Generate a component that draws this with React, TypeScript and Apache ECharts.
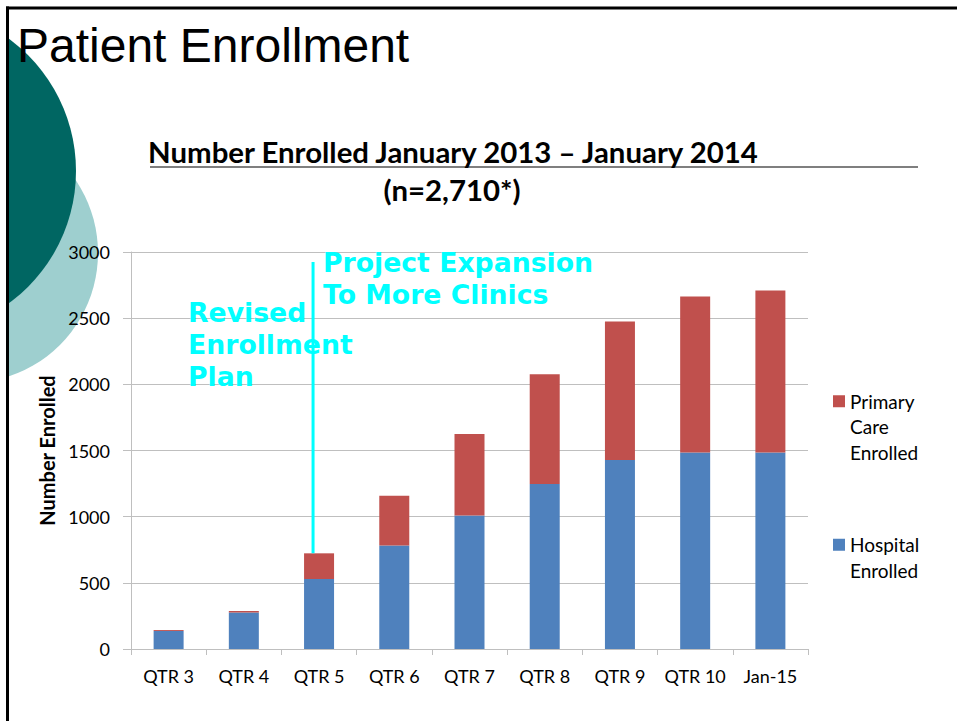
import React, { useEffect, useRef } from "react";
import * as echarts from "echarts";

const categories = ["QTR 3", "QTR 4", "QTR 5", "QTR 6", "QTR 7", "QTR 8", "QTR 9", "QTR 10", "Jan-15"];
const hospitalEnrolled = [136, 275, 529, 783, 1008, 1247, 1429, 1484, 1484];
const primaryCareEnrolled = [7, 12, 194, 376, 617, 829, 1045, 1179, 1226];
const yTicks = { min: 0, max: 3000, interval: 500 };
const seriesNames = ["Primary Care Enrolled", "Hospital Enrolled"];
const expansionCategory = "QTR 5";
const expansionLineTopValue = 2925;

const BLUE = "#4F81BD";
const RED = "#C0504D";
const CYAN = "#00FFFF";
const GRID = "#BFBFBF";
const FONT = "Lato";

// put blank lines before so that the first line is centred on the legend icon
const legendLabel = (n: string) => {
  const words = n.split(" ");
  return "\n".repeat(words.length - 1) + words.join("\n");
};

export default function App() {
  const ref = useRef<HTMLDivElement>(null);
  useEffect(() => {
    document.body.style.margin = "0";
    if (!ref.current) return;
    const chart = echarts.init(ref.current, null, { renderer: "svg" });
    const legendText = {
      fontFamily: FONT,
      fontSize: 19,
      color: "#000",
      lineHeight: 25.5,
    };
    const legendCommon = {
      orient: "vertical",
      left: 833,
      padding: 0,
      itemWidth: 12,
      itemHeight: 12,
      icon: "rect",
      selectedMode: false,
      formatter: legendLabel,
      textStyle: legendText,
    };
    chart.setOption({
      animation: false,
      backgroundColor: "#fff",
      grid: { left: 131, right: 149, top: 252, bottom: 72, containLabel: false },
      xAxis: {
        type: "category",
        data: categories,
        axisLine: { lineStyle: { color: GRID, width: 1 } },
        axisTick: { show: true, length: 6, lineStyle: { color: GRID } },
        axisLabel: { fontFamily: FONT, fontSize: 18, color: "#000", margin: 18, interval: 0 },
      },
      yAxis: {
        type: "value",
        min: yTicks.min,
        max: yTicks.max,
        interval: yTicks.interval,
        name: "Number Enrolled",
        nameLocation: "middle",
        nameGap: 59,
        nameTextStyle: { fontFamily: FONT, fontSize: 20, fontWeight: "bold", color: "#000" },
        axisLine: { show: true, lineStyle: { color: GRID, width: 1 } },
        axisTick: { show: true, length: 8, lineStyle: { color: GRID } },
        splitLine: { lineStyle: { color: GRID, width: 1 } },
        axisLabel: { fontFamily: FONT, fontSize: 18, color: "#000", margin: 21, formatter: (v: number) => String(v) },
      },
      legend: [
        { ...legendCommon, top: 337.5, data: [seriesNames[0]] },
        { ...legendCommon, top: 506.5, data: [seriesNames[1]] },
      ],
      series: [
        {
          name: seriesNames[1],
          type: "bar",
          stack: "total",
          barWidth: 30,
          data: hospitalEnrolled,
          itemStyle: { color: BLUE },
        },
        {
          name: seriesNames[0],
          type: "bar",
          stack: "total",
          barWidth: 30,
          data: primaryCareEnrolled,
          itemStyle: { color: RED },
        },
      ],
      graphic: {
        elements: [
          { id: "c2", type: "circle", z: -10, shape: { cx: -32, cy: 253, r: 130 }, style: { fill: "#9ECFCF" } },
          { id: "c1", type: "circle", z: -9, shape: { cx: -88, cy: 171, r: 164 }, style: { fill: "#006662" } },
          { id: "wl", type: "rect", z: -8, shape: { x: 0, y: 0, width: 6, height: 721 }, style: { fill: "#fff" } },
          { id: "ft", type: "line", z: 50, shape: { x1: 6, y1: 8, x2: 957, y2: 8 }, style: { stroke: "#000", lineWidth: 3 } },
          { id: "fl", type: "line", z: 50, shape: { x1: 7.5, y1: 6.5, x2: 7.5, y2: 721 }, style: { stroke: "#000", lineWidth: 3 } },
          {
            id: "pt", type: "text", z: 100, x: 17, y: 45,
            style: { text: "Patient Enrollment", fontFamily: "Liberation Sans", fontSize: 48, fill: "#000", verticalAlign: "middle", align: "left" },
          },
          {
            id: "ct", type: "text", z: 100, x: 453, y: 152, scaleX: 1.05,
            style: { text: "Number Enrolled January 2013 \u2013 January 2014", fontFamily: FONT, fontWeight: "bold", fontSize: 28, fill: "#000", align: "center", verticalAlign: "middle" },
          },
          { id: "ul", type: "line", z: 100, shape: { x1: 150, y1: 167, x2: 918, y2: 167 }, style: { stroke: "#000", lineWidth: 1.2 } },
          {
            id: "cn", type: "text", z: 100, x: 452, y: 190, scaleX: 1.05,
            style: { text: "(n=2,710*)", fontFamily: FONT, fontWeight: "bold", fontSize: 28, fill: "#000", align: "center", verticalAlign: "middle" },
          },
          {
            id: "a1", type: "text", z: 100, x: 188, y: 344,
            style: { text: "Revised\nEnrollment\nPlan", fontFamily: "DejaVu Sans", fontWeight: "bold", fontSize: 26.7, lineHeight: 32, fill: CYAN, align: "left", verticalAlign: "middle" },
          },
          {
            id: "a2", type: "text", z: 100, x: 323, y: 278,
            style: { text: "Project Expansion\nTo More Clinics", fontFamily: "DejaVu Sans", fontWeight: "bold", fontSize: 26.7, lineHeight: 32, fill: CYAN, align: "left", verticalAlign: "middle" },
          },
        ],
      },
    });
    const idx = categories.indexOf(expansionCategory);
    const topPt = chart.convertToPixel({ gridIndex: 0 }, [expansionCategory, expansionLineTopValue]) as number[];
    const botPt = chart.convertToPixel({ gridIndex: 0 }, [expansionCategory, hospitalEnrolled[idx] + primaryCareEnrolled[idx]]) as number[];
    const lx = topPt[0] - 6;
    chart.setOption({
      graphic: {
        elements: [
          { id: "el", type: "line", z: 90, shape: { x1: lx, y1: topPt[1], x2: lx, y2: botPt[1] }, style: { stroke: CYAN, lineWidth: 3 } },
        ],
      },
    });
    return () => chart.dispose();
  }, []);
  return <div ref={ref} style={{ width: 957, height: 721 }} />;
}
